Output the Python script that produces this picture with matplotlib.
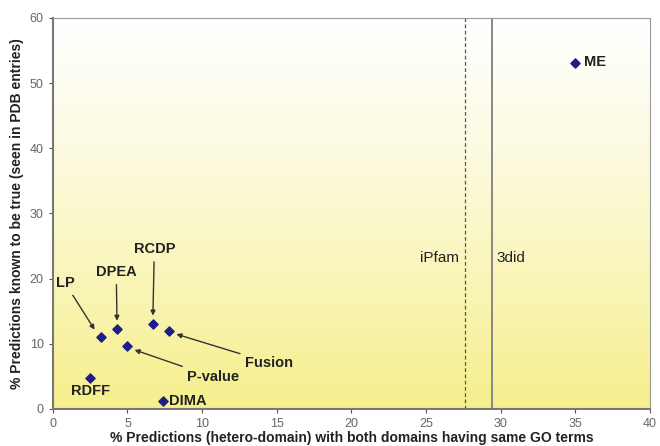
"""
scatter of the domain interaction predictors: how many predictions share GO terms
versus how many are known to be true, with iPfam and 3did drawn as reference lines
"""

import matplotlib
matplotlib.use("Agg")
import matplotlib.pyplot as plt
import numpy as np

plt.rcParams["font.family"] = ["Liberation Sans", "DejaVu Sans"]

# method names and their values
methods = ["LP", "DPEA", "RCDP", "Fusion", "P-value", "RDFF", "DIMA", "ME"]
go_pct = [3.2, 4.3, 6.7, 7.8, 5.0, 2.5, 7.4, 35.0]
true_pct = [11.1, 12.2, 13.0, 11.9, 9.6, 4.8, 1.2, 53.0]

# the two databases are shown as vertical lines
ipfam_x = 27.6
did3_x = 29.4

x_ticks = [0, 5, 10, 15, 20, 25, 30, 35, 40]
y_ticks = [0, 10, 20, 30, 40, 50, 60]

fig = plt.figure(figsize=(6.6, 4.46), dpi=100)
ax = fig.add_axes([0.080, 0.083, 0.905, 0.877])
ax.set_xlim(0, 40)
ax.set_ylim(0, 60)

# background fades from white at the top to yellow at the bottom
top = np.array([1.0, 1.0, 1.0])
bottom = np.array([246, 239, 140]) / 255
t = np.linspace(0, 1, 256)[:, None] ** 1.2
grad = (top * (1 - t) + bottom * t)[:, None, :]
ax.imshow(grad, extent=[0, 40, 0, 60], aspect="auto", origin="upper", zorder=0)

ax.axvline(ipfam_x, color="#555555", lw=0.9, ls=(0, (3, 2)), zorder=1)
ax.axvline(did3_x, color="#888888", lw=1.4, zorder=1)

ax.scatter(go_pct, true_pct, marker="D", s=22, color="#1c1c8c", zorder=3)

txt = dict(fontsize=10.5, color="#222222", fontweight="bold")
plain = dict(fontsize=11, color="#222222")
arrow = dict(arrowstyle="-|>", color="#333333", lw=1.0, mutation_scale=7)

pts = dict(zip(methods, zip(go_pct, true_pct)))
ax.annotate("LP", xy=(pts["LP"][0] - 0.3, pts["LP"][1] + 0.7), xytext=(0.2, 19.3),
            ha="left", va="center", arrowprops=arrow, **txt)
ax.annotate("DPEA", xy=(pts["DPEA"][0], pts["DPEA"][1] + 0.9), xytext=(4.25, 21.0),
            ha="center", va="center", arrowprops=arrow, **txt)
ax.annotate("RCDP", xy=(pts["RCDP"][0], pts["RCDP"][1] + 0.9), xytext=(6.8, 24.5),
            ha="center", va="center", arrowprops=arrow, **txt)
ax.annotate("Fusion", xy=(pts["Fusion"][0] + 0.3, pts["Fusion"][1] - 0.3), xytext=(12.9, 7.1),
            ha="left", va="center", arrowprops=arrow, **txt)
ax.annotate("P-value", xy=(pts["P-value"][0] + 0.3, pts["P-value"][1] - 0.4), xytext=(9.0, 4.9),
            ha="left", va="center", arrowprops=arrow, **txt)
ax.text(2.5, 2.8, "RDFF", ha="center", va="center", **txt)
ax.text(7.8, 1.2, "DIMA", ha="left", va="center", **txt)
ax.text(35.6, 53.2, "ME", ha="left", va="center", **txt)
ax.text(27.2, 23.2, "iPfam", ha="right", va="center", **plain)
ax.text(29.7, 23.2, "3did", ha="left", va="center", **plain)

ax.set_xticks(x_ticks)
ax.set_yticks(y_ticks)
ax.tick_params(labelsize=9, colors="#555555", length=3, labelcolor="#666666")
for side in ["left", "bottom"]:
    ax.spines[side].set_color("#777777")
    ax.spines[side].set_linewidth(1.5)
for side in ["top", "right"]:
    ax.spines[side].set_color("#999999")
    ax.spines[side].set_linewidth(0.8)

ax.set_xlabel("% Predictions (hetero-domain) with both domains having same GO terms",
              fontsize=10, fontweight="bold", color="#222222", labelpad=1)
ax.set_ylabel("% Predictions known to be true (seen in PDB entries)",
              fontsize=10, fontweight="bold", color="#222222", labelpad=4)

fig.savefig("out.png", dpi=100)
